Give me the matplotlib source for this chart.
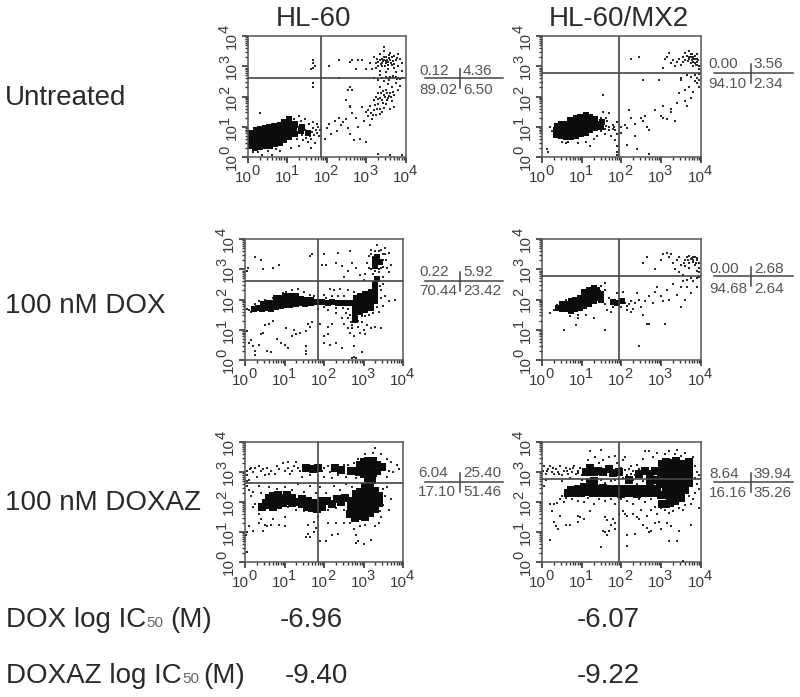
import numpy as np
import matplotlib
matplotlib.use("Agg")
import matplotlib.pyplot as plt
from matplotlib.ticker import LogLocator, NullFormatter, FixedLocator

plt.rcParams["font.family"] = ["Liberation Sans", "DejaVu Sans"]

W, H = 800, 697
INK = "#2a2a2a"

# all event positions are in decades (log10 of the channel value)
a_core = [(0.05,0.36),(0.06,0.5),(0.04,0.66),(0.07,0.78),(0.18,0.3),(0.17,0.46),(0.19,0.6),(0.18,0.75),(0.2,0.88),
          (0.3,0.32),(0.31,0.48),(0.29,0.62),(0.31,0.78),(0.3,0.92),(0.42,0.35),(0.43,0.5),(0.41,0.65),(0.43,0.8),(0.42,0.95),
          (0.55,0.38),(0.54,0.53),(0.56,0.68),(0.55,0.83),(0.54,0.98),(0.68,0.42),(0.67,0.57),(0.69,0.72),(0.68,0.87),(0.67,1.02),
          (0.8,0.47),(0.81,0.62),(0.79,0.77),(0.81,0.92),(0.8,1.07),(0.92,0.55),(0.93,0.7),(0.91,0.85),(0.93,1.0),(0.92,1.15),
          (1.05,0.65),(1.04,0.8),(1.06,0.95),(1.05,1.1),(1.04,1.25),(1.2,0.75),(1.18,0.95),(1.2,1.1),(1.35,0.85),(1.36,1.0),(1.52,0.8)]
a_dots = [(1.15,0.7),(1.2,1.0),(1.25,0.6),(1.3,0.85),(1.35,1.2),(1.4,0.55),(1.45,0.9),(1.5,0.75),(1.55,1.1),(1.6,0.6),
          (1.65,0.95),(1.7,0.45),(1.75,0.8),(1.78,1.0),(1.8,0.7),(1.62,0.82),(1.4,1.05),(1.28,0.98),(1.18,1.25),(1.52,0.48),
          (1.68,0.72),(1.72,0.9),(1.58,0.68),(1.48,0.62),(1.38,0.72),(1.82,0.88),(1.75,1.1),(1.66,1.15),(1.45,1.25),(1.3,1.35),
          (0.3,1.45),(0.6,0.05),(0.35,0.08),(0.8,0.2),(1.1,0.3),(1.3,0.35),(1.6,0.3),(0.12,0.18),(0.25,0.15),(0.5,0.2),(0.7,0.28),
          (1.95,0.6),(2.0,0.95),(2.05,1.1),(2.1,0.75),(2.2,1.2),(2.25,0.85),(2.3,1.3),(2.35,1.05),(2.4,1.15),(2.5,1.25),
          (2.55,0.95),(2.6,0.75),(2.65,1.45),(2.7,0.55),(2.75,1.3),(2.8,1.0),(2.85,0.6),(2.9,1.65),(2.95,1.2),(3.0,0.5),
          (3.0,1.5),(3.05,1.35),(3.1,1.05),(3.1,1.7),(3.15,1.25),(3.2,1.55),(3.2,1.9),(3.25,1.4),(3.3,1.75),(3.3,2.1),
          (3.35,1.6),(3.35,2.3),(3.4,1.9),(3.4,1.5),(3.45,2.05),(3.45,2.5),(3.5,1.75),(3.5,2.2),(3.55,1.95),(3.55,2.4),
          (3.6,1.6),(3.6,2.1),(3.65,1.85),(3.65,2.3),(3.7,2.05),(3.7,1.65),(3.75,2.45),(3.8,2.2),(3.85,2.35),(3.25,2.0),
          (3.38,2.12),(3.48,1.98),(3.58,2.02),(3.3,1.92),(3.42,1.78),(3.52,1.88),(3.22,1.72),(3.12,1.45),(3.28,1.58),(3.36,1.42),
          (3.44,2.18),(3.54,2.12),(3.62,1.98),(3.68,2.15),(3.46,1.62),(3.34,1.95),(3.04,1.55),(3.18,1.38),
          (3.1,3.1),(3.2,3.3),(3.25,2.95),(3.3,3.15),(3.35,3.4),(3.4,3.0),(3.4,3.25),(3.45,3.5),(3.5,3.1),(3.5,3.3),
          (3.55,2.9),(3.6,3.2),(3.6,3.45),(3.65,3.05),(3.7,3.35),(3.7,2.95),(3.75,3.2),(3.8,3.4),(3.8,3.0),(3.85,3.25),
          (3.9,3.1),(3.3,3.0),(3.45,3.2),(3.55,3.05),(3.65,3.3),(3.15,2.9),(3.35,2.85),(3.5,2.8),(3.75,2.8),(3.9,2.85),
          (3.4,3.12),(3.48,3.02),(3.52,3.22),(3.62,3.12),(3.68,3.18),(3.35,3.22),(3.58,3.38),(3.45,3.62),(3.42,3.18),(3.5,3.18),
          (3.38,3.08),(3.46,3.3),(3.55,3.14),(3.72,3.08),(3.78,3.28),(3.28,3.25),(3.25,3.12),(3.58,3.26),
          (3.5,2.65),(3.55,2.6),(3.6,2.65),(3.65,2.62),(3.7,2.6),(3.75,2.65),(3.8,2.62),(3.85,2.58),(3.9,2.6),(3.4,2.6),
          (3.3,2.55),(3.2,2.6),(3.35,2.7),(3.68,2.68),(3.78,2.58),(3.58,2.56),
          (1.6,2.9),(1.65,2.95),(1.7,3.0),(1.65,3.1),(1.65,3.2),(1.65,2.45),(1.65,2.3),(2.05,3.0),(2.3,3.2),(2.6,3.15),
          (2.65,3.2),(2.8,3.22),(2.9,3.2),(2.75,2.9),(3.0,2.9),(2.3,2.6),(2.55,2.2),(2.6,2.3),(2.65,2.2),(2.5,1.9),
          (2.6,1.7),(2.6,1.65),(3.3,0.1),(3.6,0.05),(3.9,0.05)]

b_core = [(0.36,0.72),(0.35,0.88),(0.37,1.02),(0.48,0.68),(0.49,0.83),(0.47,0.98),(0.48,1.1),(0.6,0.65),(0.61,0.8),(0.59,0.95),(0.6,1.1),
          (0.72,0.65),(0.71,0.8),(0.73,0.95),(0.72,1.1),(0.71,1.22),(0.85,0.7),(0.86,0.85),(0.84,1.0),(0.85,1.15),(0.86,1.28),
          (0.98,0.75),(0.97,0.9),(0.99,1.05),(0.98,1.2),(0.97,1.33),(1.1,0.8),(1.11,0.95),(1.09,1.1),(1.1,1.25),(1.11,1.38),
          (1.22,0.88),(1.21,1.03),(1.23,1.18),(1.22,1.33),(1.35,0.95),(1.36,1.1),(1.34,1.25),(1.5,1.0),(1.52,1.15)]
b_dots = [(0.2,1.0),(0.25,0.85),(0.35,0.65),(0.4,1.1),(0.5,0.5),(0.6,0.45),(0.65,0.5),(0.9,0.45),(1.1,0.5),(1.2,0.35),
          (0.12,0.25),(0.15,0.15),(1.3,0.6),(1.4,0.7),(1.5,1.3),(1.5,0.85),(1.55,1.1),(1.6,0.75),(1.65,1.2),(1.7,1.0),(1.75,0.7),
          (1.8,1.05),(1.85,0.9),(1.85,0.55),(1.9,1.15),(1.9,0.75),(1.55,1.5),(1.55,2.05),(1.62,1.3),(1.7,1.45),(1.9,0.35),
          (1.9,0.15),(1.9,0.05),(2.0,1.0),(2.0,0.8),(2.1,1.05),(2.15,0.95),(2.15,0.4),(2.2,1.55),(2.25,1.3),(2.35,0.7),
          (2.35,1.1),(2.4,0.25),(2.5,1.3),(2.55,1.2),(2.6,1.35),(2.65,1.0),(2.7,0.9),(2.7,0.1),(2.85,1.55),(3.0,1.35),
          (3.05,1.3),(3.05,1.7),(3.15,1.25),(3.25,1.5),(3.25,1.6),(3.35,1.2),(1.78,0.92),(1.68,0.88),(1.62,1.02),(1.58,0.92),(1.82,0.98),
          (3.4,1.8),(3.45,2.1),(3.5,2.55),(3.6,2.2),(3.65,1.7),(3.6,1.85),(3.7,2.3),(3.75,1.95),(3.8,2.15),(3.85,2.5),
          (3.9,2.6),(3.95,2.3),(3.5,2.6),(3.65,2.7),(3.75,2.65),(3.85,2.7),(3.95,2.75),(3.9,2.45),(3.95,2.55),
          (2.25,3.25),(2.45,3.3),(2.55,2.55),(2.95,2.55),(3.05,2.95),(3.1,3.25),(3.15,3.3),(3.2,3.45),(3.25,3.1),(3.3,3.2),
          (3.35,3.0),(3.4,3.15),(3.45,3.25),(3.5,3.05),(3.55,3.3),(3.55,3.15),(3.6,3.45),(3.62,3.2),(3.65,3.35),(3.7,3.5),
          (3.75,3.4),(3.72,3.25),(3.8,3.3),(3.8,3.15),(3.85,3.25),(3.88,3.05),(3.9,3.4),(3.92,3.15),(3.95,3.0),(3.95,2.9),
          (3.78,3.22),(3.85,3.35),(3.75,3.1),(3.9,3.25),(3.82,3.0),(3.76,3.32),(3.82,3.24),(3.7,3.3),(3.86,3.12),(3.92,3.05),(3.78,3.42),
          (3.68,3.18),(3.94,3.2)]

c_core = [(0.22,1.7),(0.32,1.72),(0.42,1.68),(0.45,1.85),(0.55,1.72),(0.57,1.87),(0.67,1.7),(0.68,1.88),(0.78,1.75),(0.8,1.92),(0.78,2.05),
          (0.9,1.78),(0.92,1.93),(0.9,2.06),(1.02,1.82),(1.03,1.97),(1.02,2.1),(1.14,1.82),(1.15,1.97),(1.16,2.12),(1.28,1.85),(1.27,2.0),(1.3,2.12),
          (1.4,1.88),(1.42,2.03),(1.52,1.85),(1.55,2.0),(1.66,1.88),(1.68,1.98),(1.8,1.92),(1.95,1.93),(2.1,1.88),(2.2,1.92),(2.35,1.88),(2.5,1.9),
          (2.65,1.88),(2.78,1.7),(2.8,1.88),(2.8,2.05),(2.78,1.5),(2.78,1.32),(2.9,1.58),(2.92,1.75),(2.92,1.92),(2.92,2.1),(3.05,1.65),(3.05,1.82),
          (3.05,2.0),(3.05,2.18),(3.18,1.72),(3.18,1.9),(3.18,2.08),(3.18,2.25),(3.3,1.95),(3.3,2.15),(3.3,2.32),(3.3,2.5),(3.35,2.68),
          (3.3,3.3),(3.28,3.12),(3.42,3.25),(3.35,3.42)]
c_dots = [(0.05,1.7),(0.1,1.65),(0.15,1.6),(0.25,1.85),(0.35,1.95),(0.5,2.0),(0.7,2.05),(0.95,2.2),(1.05,2.25),(1.2,2.3),
          (1.35,2.35),(1.5,2.25),(1.65,2.15),(1.75,2.1),(1.85,1.7),(2.0,2.15),(2.15,2.35),(2.25,2.3),(2.4,2.35),(2.6,2.3),(2.75,2.25),
          (2.1,1.65),(2.3,1.55),(2.45,1.4),(2.5,1.2),(2.6,1.05),(2.65,0.9),(2.7,1.15),(2.75,0.8),(2.85,1.1),(2.9,0.9),(2.95,1.25),
          (3.0,1.0),(3.05,0.85),(3.1,1.15),(3.2,1.05),(3.3,1.1),(3.45,1.05),(2.55,1.55),(2.65,1.5),(2.6,1.7),(3.4,1.6),(3.5,1.8),
          (3.55,2.1),(3.65,1.95),(3.8,2.0),(3.45,2.05),(3.35,1.75),(2.6,1.4),(2.68,1.25),(2.72,1.05),(2.85,1.3),(2.95,1.45),(3.05,1.45),
          (3.15,1.5),(3.25,1.55),(3.45,2.3),(3.5,2.5),(3.42,2.45),(2.5,2.1),(2.35,2.1),(2.2,2.1),(2.05,2.05),(2.0,1.75),(2.3,1.72),(2.48,1.72),
          (0.05,0.95),(0.1,0.55),(0.15,0.65),(0.2,0.45),(0.25,0.3),(0.35,0.5),(0.4,0.85),(0.45,0.9),(0.5,1.15),(0.55,0.3),(0.6,1.2),(0.7,1.3),
          (0.8,0.7),(0.9,0.55),(1.0,0.5),(1.05,1.05),(1.1,0.4),(1.2,0.8),(1.25,1.0),(1.3,0.85),(1.4,0.9),(1.55,0.95),(1.6,1.2),(1.65,1.1),
          (1.7,1.25),(1.55,0.45),(1.55,0.3),(1.55,0.2),(0.25,0.15),(0.65,0.25),(1.9,1.2),(2.0,0.8),(2.1,0.85),(2.1,1.1),(2.2,1.2),(2.0,0.55),
          (2.15,0.5),(2.3,0.55),(2.45,0.4),(2.75,0.45),(2.7,0.05),(2.75,0.1),(2.8,0.05),(2.95,0.25),
          (0.05,2.95),(0.08,3.05),(0.25,3.4),(0.4,3.3),(0.45,3.0),(0.7,3.05),(0.85,3.15),(1.65,3.45),(1.7,3.5),(2.0,3.5),(2.35,3.55),
          (2.65,3.6),(1.95,3.15),(2.05,3.15),(2.3,3.2),(2.45,3.1),(2.6,2.95),(2.5,2.75),(2.7,3.2),(2.8,3.05),(2.9,2.8),(3.0,2.65),(3.05,2.85),
          (3.1,3.2),(3.15,3.45),(3.2,3.65),(3.25,3.4),(3.3,3.6),(3.35,3.8),(3.4,3.45),(3.45,3.65),(3.5,3.3),(3.55,3.5),(3.55,3.7),(3.65,3.55),
          (3.2,3.0),(3.25,2.85),(3.3,2.7),(3.4,2.9),(3.45,3.05),(3.5,2.75),(3.6,3.05),(3.65,2.9),(3.7,3.15),(3.35,3.35),(3.45,3.2),(3.25,3.2),(3.15,3.05),
          (3.2,3.5),(3.4,3.6),(3.5,3.5),(3.58,3.3),(3.3,2.95),(3.38,3.0),(3.5,3.08)]

d_core = [(0.4,1.72),(0.5,1.68),(0.5,1.85),(0.6,1.68),(0.62,1.85),(0.72,1.62),(0.72,1.78),(0.74,1.94),(0.84,1.68),(0.85,1.84),(0.84,2.0),
          (0.96,1.72),(0.95,1.88),(0.96,2.04),(1.06,1.78),(1.07,1.94),(1.06,2.1),(1.07,2.24),(1.18,1.85),(1.17,2.0),(1.18,2.16),(1.18,2.3),
          (1.3,1.95),(1.3,2.1),(1.29,2.25),(1.3,2.38),(1.4,2.05),(1.41,2.2),(1.4,2.33),(1.5,2.0),(1.5,2.18),(1.78,1.92),(1.9,1.9),(2.02,1.95)]
d_dots = [(0.2,1.55),(0.3,1.65),(0.38,1.82),(0.6,2.0),(0.7,1.45),(0.9,1.5),(1.1,1.5),(0.55,1.0),(0.85,1.15),(0.9,1.4),(1.3,1.4),(1.6,1.0),
          (1.5,2.45),(1.6,2.3),(1.6,2.55),(1.55,1.95),(1.6,1.85),(1.65,1.65),(1.7,2.05),(1.75,1.6),(1.8,1.75),(1.85,1.9),(1.9,2.2),(1.95,1.85),
          (2.0,1.75),(2.05,2.25),(2.1,1.9),(2.15,1.65),(2.2,1.85),(2.25,1.6),(2.3,1.7),(2.35,1.9),(2.4,2.2),(2.45,2.0),(2.5,1.75),(2.55,1.5),
          (2.65,1.2),(2.7,1.2),(2.7,2.1),(2.8,1.9),(2.9,2.4),(3.0,2.1),(3.05,1.95),(3.15,2.3),(3.2,2.0),(3.3,2.5),(3.4,2.15),(3.5,1.75),
          (3.6,2.0),(3.65,2.4),(3.75,2.2),(3.8,2.6),(3.9,2.4),(3.1,1.2),(2.45,0.45),(3.55,2.6),(3.5,2.4),(2.15,1.8),(2.25,1.95),(2.6,1.95),(2.85,2.25),
          (2.55,3.2),(2.65,3.4),(2.85,3.0),(3.0,3.3),(3.05,3.5),(3.15,3.55),(3.2,3.4),(3.25,3.5),(3.3,3.2),(3.35,3.0),(3.4,3.3),(3.45,2.9),
          (3.5,3.15),(3.55,2.8),(3.6,3.3),(3.65,3.4),(3.7,3.2),(3.7,3.05),(3.75,3.35),(3.75,2.7),(3.8,3.25),(3.85,3.4),(3.85,3.15),
          (3.9,3.3),(3.95,3.2),(3.95,2.9),(3.95,2.75),(3.95,3.05),(3.45,3.4),(3.65,2.65),(3.9,2.7),(3.6,3.1),(3.8,3.42),(3.72,3.45),
          (3.78,3.38),(3.68,3.32),(3.88,3.22),(3.92,3.38),(3.58,3.22),(3.82,3.32),(3.92,2.95)]

e_core = [(0.42,1.85),(0.52,1.98),(0.62,2.12),(0.62,1.9),(0.72,2.2),(0.74,2.02),(0.72,1.85),(0.84,2.25),(0.85,2.05),(0.84,1.9),(0.95,2.15),(0.95,1.98),(1.06,2.05),(1.06,2.22),
          (1.2,2.12),(1.2,1.98),(1.32,2.0),(1.45,2.1),(1.45,1.92),(1.58,1.85),(1.6,2.02),(1.7,1.8),(1.72,1.98),(1.82,1.78),(1.84,1.95),(1.95,1.85),(1.95,2.02),(2.08,2.03),(2.2,1.95),(2.32,2.1),(2.42,2.0),(2.52,2.12),
          (2.65,1.6),(2.68,1.82),(2.68,2.05),(2.78,1.48),(2.8,1.68),(2.8,1.88),(2.8,2.08),(2.8,2.28),(2.92,1.55),(2.92,1.75),(2.92,1.95),(2.92,2.15),(2.92,2.35),
          (3.04,1.5),(3.04,1.7),(3.04,1.9),(3.04,2.1),(3.04,2.3),(3.04,2.5),(3.16,1.62),(3.16,1.82),(3.16,2.02),(3.16,2.22),(3.16,2.42),(3.16,2.62),(3.28,1.78),(3.28,1.98),(3.28,2.18),(3.28,2.38),(3.38,1.98),(3.38,2.2),
          (3.12,2.8),(3.22,2.72),(2.88,3.0),(2.9,3.22),(3.0,2.95),(3.0,3.15),(3.0,3.35),(3.12,2.98),(3.12,3.18),(3.12,3.38),(3.24,2.98),(3.24,3.18),(3.24,3.38),(3.35,3.05),(3.35,3.25),(3.46,3.18),
          (2.68,3.02),(2.78,3.05),(2.42,3.08),(2.28,3.15),(1.55,3.12),(1.72,3.1),(1.85,3.12)]
e_dots = [(0.05,2.7),(0.05,2.9),(0.05,3.05),(0.1,2.75),(0.15,3.15),(0.2,3.0),(0.3,2.85),(0.35,3.2),(0.45,3.1),(0.5,2.9),(0.55,3.15),(0.65,3.05),(0.75,2.95),
          (0.85,3.1),(0.95,3.3),(1.0,3.05),(1.1,3.35),(1.15,2.95),(1.25,3.2),(1.3,3.35),(1.4,3.05),(1.45,2.85),(1.55,3.05),(1.65,2.9),(1.85,3.25),
          (1.95,3.05),(2.0,2.85),(2.1,3.2),(2.15,3.0),(2.2,2.8),(2.35,2.9),(2.5,3.25),(2.55,2.85),(2.6,3.25),(2.75,3.3),(2.8,2.8),(2.85,3.45),
          (3.05,3.6),(3.25,3.65),(3.3,3.8),(3.45,3.6),(3.55,3.25),(3.6,3.45),(3.65,3.05),(3.7,3.35),(3.75,3.0),(3.85,3.25),(3.9,3.1),(3.6,2.85),
          (0.12,3.1),(0.25,3.12),(0.4,3.02),(0.6,2.95),(0.8,3.2),(1.08,3.15),(1.2,3.05),(1.35,3.15),(1.5,3.2),(2.0,3.12),(2.2,3.05),(2.5,3.0),(2.62,3.1),
          (0.05,2.55),(0.1,2.4),(0.15,2.2),(0.2,1.85),(0.25,1.95),(0.2,2.35),(0.35,2.55),(0.4,2.3),(0.6,2.5),(0.8,2.45),(1.0,2.5),(1.2,2.4),(1.35,2.6),
          (1.5,2.35),(1.65,2.55),(1.8,2.3),(1.9,2.5),(2.05,2.3),(2.25,2.55),(2.4,2.4),(2.55,2.6),(2.7,2.5),(1.1,1.85),(1.3,1.75),(1.5,1.7),(2.1,1.75),
          (2.3,1.8),(2.5,1.75),(2.6,1.5),(3.45,1.5),(3.5,1.9),(3.55,2.2),(3.6,2.5),(3.65,1.75),(3.7,2.1),(3.5,2.45),(3.42,1.7),
          (0.05,1.0),(0.1,1.2),(0.2,1.05),(0.35,1.3),(0.4,1.45),(0.5,1.25),(0.55,1.2),(0.65,1.25),(0.7,1.45),(0.85,1.25),(1.0,1.2),(1.0,1.5),(0.35,1.6),
          (0.45,1.05),(1.6,0.95),(1.55,0.85),(1.65,0.85),(1.6,1.25),(1.75,1.0),(1.8,1.15),(1.75,1.35),(1.85,1.5),(2.1,1.3),(2.2,0.9),(2.3,1.3),(2.35,0.95),
          (2.5,1.3),(2.65,1.3),(2.75,1.1),(2.8,0.9),(2.85,0.7),(2.8,0.65),(3.0,0.6),(3.2,0.75),(3.3,1.2),(3.4,1.3),(3.05,1.25),(2.9,1.2),(2.05,0.7),
          (0.05,0.35),(0.02,0.9),(1.9,0.7)]

f_core = [(0.65,2.3),(0.72,2.4),(0.82,2.3),(0.9,2.42),(0.98,2.3),(1.05,2.5),(1.1,2.32),(1.2,2.45),(1.28,2.3),(1.38,2.42),(1.48,2.3),(1.55,2.48),(1.62,2.3),(1.72,2.42),(1.82,2.3),
          (1.92,2.42),(2.0,2.28),(2.1,2.42),(2.2,2.3),(2.3,2.44),(2.4,2.28),(2.5,2.42),(2.6,2.3),(2.7,2.45),(2.8,2.3),(2.9,2.42),
          (2.98,2.6),(3.0,2.82),(3.0,3.04),(3.02,3.26),(3.0,2.25),(3.12,2.22),(3.12,2.44),(3.12,2.66),(3.14,2.88),(3.14,3.1),(3.14,3.32),(3.22,1.98),
          (3.25,2.2),(3.25,2.42),(3.25,2.64),(3.26,2.86),(3.26,3.08),(3.28,3.3),(3.36,2.05),(3.38,2.28),(3.38,2.5),(3.38,2.72),(3.38,2.94),(3.38,3.16),(3.38,3.38),
          (3.5,2.15),(3.5,2.38),(3.5,2.6),(3.5,2.82),(3.5,3.04),(3.5,3.26),(3.62,2.4),(3.62,2.62),(3.62,2.84),(3.62,3.06),(3.62,3.28),(3.72,2.9),(3.72,3.12),(3.72,3.34),(3.7,2.65),
          (3.02,1.95),(3.12,1.92),
          (1.1,3.0),(1.2,3.12),(1.3,3.0),(1.42,3.05),(1.55,3.0),(1.68,3.1),(1.8,2.98),(1.95,3.0),(2.45,2.95),(2.6,3.05),(2.72,2.92),(2.85,3.02),(2.85,2.72),(2.72,2.68),(1.2,2.62),(1.32,2.7),(2.2,2.72)]
f_dots = [(0.02,3.05),(0.05,3.2),(0.1,2.95),(0.15,3.1),(0.2,3.2),(0.25,3.0),(0.3,2.95),(0.35,3.1),(0.4,3.0),(0.45,3.2),(0.5,2.9),(0.55,3.05),(0.6,3.15),
          (0.65,2.95),(0.7,3.1),(0.75,3.0),(0.8,3.2),(0.85,2.95),(0.9,3.05),(0.95,3.15),(1.0,2.9),(1.15,3.4),(1.2,3.7),(1.35,3.5),(1.45,3.3),(1.5,3.75),
          (1.55,3.4),(1.7,3.5),(1.85,3.55),(1.9,3.3),(2.0,3.15),(2.05,3.4),(2.1,3.5),(2.2,3.1),(2.25,3.2),(2.35,2.9),(2.4,3.25),(2.45,3.1),(2.55,3.45),
          (2.6,3.7),(2.7,3.7),(2.8,3.5),(2.9,3.65),(3.1,3.6),(3.2,3.7),(3.35,3.6),(3.4,3.75),(3.5,3.55),(3.6,3.65),(3.8,3.5),(3.85,3.2),(3.9,3.0),(3.95,2.9),
          (3.85,2.8),(3.9,2.6),(3.95,2.45),(3.85,2.3),(3.8,2.1),(3.7,2.2),(3.75,1.95),(0.12,3.02),(0.28,3.12),(0.42,2.95),(0.62,3.02),(0.78,3.12),(0.92,2.98),
          (2.1,3.08),(2.3,3.05),(2.25,2.95),(2.15,2.9),(2.4,3.02),
          (0.05,2.55),(0.1,2.75),(0.5,2.7),(0.7,2.8),(0.9,2.55),(1.0,2.75),(1.35,2.7),(1.5,2.75),(1.6,2.65),(1.75,2.7),(1.85,2.75),(2.0,2.55),(2.05,2.8),(2.2,2.65),
          (2.3,2.75),(2.4,2.6),(2.55,2.7),(2.65,2.8),(2.7,2.6),(0.45,2.1),(0.5,2.2),(0.55,2.0),(0.6,2.15),(0.75,2.1),(0.9,2.05),(1.05,2.0),(1.15,2.15),
          (1.3,1.95),(1.45,2.1),(1.6,2.05),(1.75,2.1),(1.85,1.95),(2.0,2.1),(2.15,2.05),(2.3,1.95),(2.45,2.1),(2.6,2.0),(2.75,2.1),(2.85,1.85),(2.95,2.05),(3.0,1.8),
          (3.1,1.75),(3.2,1.65),(3.3,1.7),(3.45,1.8),(3.55,1.75),(3.6,1.9),(2.9,1.6),(2.75,1.75),(2.65,1.55),(2.5,1.75),(2.4,1.5),(2.3,1.6),(2.15,1.55),(2.05,1.7),
          (0.2,1.95),(0.25,1.7),(0.3,1.35),(0.35,1.2),(0.4,1.1),(0.45,1.55),(0.6,1.25),(0.7,1.25),(0.9,1.35),(0.95,1.5),(1.05,1.45),(0.2,0.75),(1.5,0.5),
          (1.6,1.5),(1.65,1.4),(1.75,1.25),(1.8,1.45),(1.55,1.05),(1.6,1.0),(1.65,0.9),(1.7,1.05),(1.85,1.1),(1.85,1.3),(2.1,1.6),(2.15,0.9),(2.15,0.55),(2.35,0.95),
          (2.45,1.45),(2.55,1.25),(2.65,1.15),(2.7,1.0),(2.75,1.05),(2.85,1.3),(2.95,1.35),(3.0,1.1),(3.15,1.3),(3.2,0.7),(3.4,0.7),(3.25,1.2),(3.45,1.05),(3.75,1.25),(3.95,1.8),
          (3.55,0.05),(0.9,1.55),(1.2,1.7),(1.95,1.6),(0.3,1.95),(0.38,1.98)]

v_gate = [1.86, 1.95, 1.85, 1.95, 1.85, 1.95]
h_gate = [2.62, 2.78, 2.62, 2.79, 2.64, 2.78]
cores = [a_core, b_core, c_core, d_core, e_core, f_core]
dots = [a_dots, b_dots, c_dots, d_dots, e_dots, f_dots]

quad_ul = ["0.12", "0.00", "0.22", "0.00", "6.04", "8.64"]
quad_ur = ["4.36", "3.56", "5.92", "2.68", "25.40", "39.94"]
quad_ll = ["89.02", "94.10", "70.44", "94.68", "17.10", "16.16"]
quad_lr = ["6.50", "2.34", "23.42", "2.64", "51.46", "35.26"]

row_labels = ["Untreated", "100 nM DOX", "100 nM DOXAZ"]
ic_dox = ["-6.96", "-6.07"]
ic_doxaz = ["-9.40", "-9.22"]
decades = [0, 1, 2, 3, 4]

# panel boxes in pixels: left, right, top, bottom
boxes = [(248, 405.5, 36, 157), (542, 700.5, 36, 157),
         (245, 403, 239, 360), (542, 700.5, 239, 360),
         (245, 403, 442, 562), (542, 700.5, 442, 562)]
# the dense clumps are drawn as a coarser layer, size per panel
core_size = [18, 18, 20, 18, 32, 36]
# quadrant summary anchors: line left, line right, line y, cross x, left text x, right text x, upper and lower baselines
stats = [(425, 503, 78, 460, 419, 463, 75, 94), (714, 793, 73, 751, 708, 753, 68, 88),
         (425, 503, 281, 460, 419, 463, 276, 295), (714, 793, 276, 751, 709, 754, 273, 293),
         (425, 503, 482, 460, 418, 463, 477, 496), (714, 793, 482, 751, 709, 753, 478, 497)]

PT = 0.72  # points per pixel at dpi 100
TICK_COL = "#3a3a3a"

fig = plt.figure(figsize=(W / 100, H / 100), dpi=100)


def put(x, y, s, **kw):
    kw.setdefault("color", "#2a2a2a")
    kw.setdefault("va", "baseline")
    return fig.text(x / W, 1 - y / H, s, **kw)


def hline(x0, x1, y, **kw):
    fig.add_artist(plt.Line2D([x0 / W, x1 / W], [1 - y / H, 1 - y / H], **kw))


def vline(x, y0, y1, **kw):
    fig.add_artist(plt.Line2D([x / W, x / W], [1 - y0 / H, 1 - y1 / H], **kw))


def tick_label(ax, d, axis):
    # "10" and its exponent are nearly the same size in the reference, so two texts
    if axis == "x":
        pos = dict(xy=(10 ** d, 0), xycoords=("data", "axes fraction"))
        ax.annotate("10", xytext=(4 * PT, -25 * PT), textcoords="offset points", ha="right", va="baseline",
                    fontsize=11, color=TICK_COL, **pos)
        ax.annotate(str(d), xytext=(3 * PT, -18 * PT), textcoords="offset points", ha="left", va="baseline",
                    fontsize=10.5, color=TICK_COL, **pos)
    else:
        pos = dict(xy=(0, 10 ** d), xycoords=("axes fraction", "data"))
        ax.annotate("10", xytext=(-12 * PT, 4 * PT), textcoords="offset points", ha="right", va="baseline",
                    rotation=90, rotation_mode="anchor", fontsize=11, color=TICK_COL, **pos)
        ax.annotate(str(d), xytext=(-19 * PT, 3 * PT), textcoords="offset points", ha="left", va="baseline",
                    rotation=90, rotation_mode="anchor", fontsize=10.5, color=TICK_COL, **pos)


for i, (l, r, t, b) in enumerate(boxes):
    ax = fig.add_axes([l / W, 1 - b / H, (r - l) / W, (b - t) / H])
    ax.set_xscale("log")
    ax.set_yscale("log")
    ax.set_xlim(1, 1e4)
    ax.set_ylim(1, 1e4)

    d = 10 ** np.array(dots[i])
    c = 10 ** np.array(cores[i])
    ax.scatter(d[:, 0], d[:, 1], s=3, c=INK, linewidths=0, marker="s", clip_on=False, zorder=2)
    ax.scatter(c[:, 0], c[:, 1], s=core_size[i], c="#0c0c0c", linewidths=0, marker="s", zorder=2)
    ax.axvline(10 ** v_gate[i], color="#444444", lw=1.2, zorder=3)
    ax.axhline(10 ** h_gate[i], color="#444444", lw=1.2, zorder=3)

    for axis in (ax.xaxis, ax.yaxis):
        axis.set_major_locator(FixedLocator([10.0 ** k for k in decades]))
        axis.set_minor_locator(LogLocator(base=10, subs=range(2, 10), numticks=12))
        axis.set_major_formatter(NullFormatter())
        axis.set_minor_formatter(NullFormatter())
    ax.tick_params(which="major", length=4.5, width=1.2, color="#333333")
    ax.tick_params(which="minor", length=2.5, width=1.0, color="#333333")
    for k in decades:
        tick_label(ax, k, "x")
        tick_label(ax, k, "y")
    for sp in ax.spines.values():
        sp.set_color("#555555")
        sp.set_linewidth(1.1)

    x0, x1, ly, cx, tl, tr, up, low = stats[i]
    hline(x0, x1, ly, color="#444444", lw=1.1)
    vline(cx, ly - 9, ly + 10, color="#444444", lw=1.1)
    put(tl, up, quad_ul[i], fontsize=11, color="#555555")
    put(tr, up, quad_ur[i], fontsize=11, color="#555555")
    put(tl, low, quad_ll[i], fontsize=11, color="#555555")
    put(tr, low, quad_lr[i], fontsize=11, color="#555555")

put(276, 26, "HL-60", fontsize=20)
put(549, 26, "HL-60/MX2", fontsize=20)

put(5, 105, row_labels[0], fontsize=20)
put(5, 313, row_labels[1], fontsize=20)
put(5, 510, row_labels[2], fontsize=20)

put(6, 627, "DOX log IC", fontsize=20)
put(146, 627, "50", fontsize=11, color="#666666")
put(170, 627, "(M)", fontsize=20)
put(6, 683, "DOXAZ log IC", fontsize=20)
put(182, 683, "50", fontsize=11, color="#666666")
put(203, 683, "(M)", fontsize=20)

put(280, 627, ic_dox[0], fontsize=20)
put(285, 683, ic_doxaz[0], fontsize=20)
put(577, 627, ic_dox[1], fontsize=20)
put(577, 683, ic_doxaz[1], fontsize=20)

fig.savefig("out.png", dpi=100)
